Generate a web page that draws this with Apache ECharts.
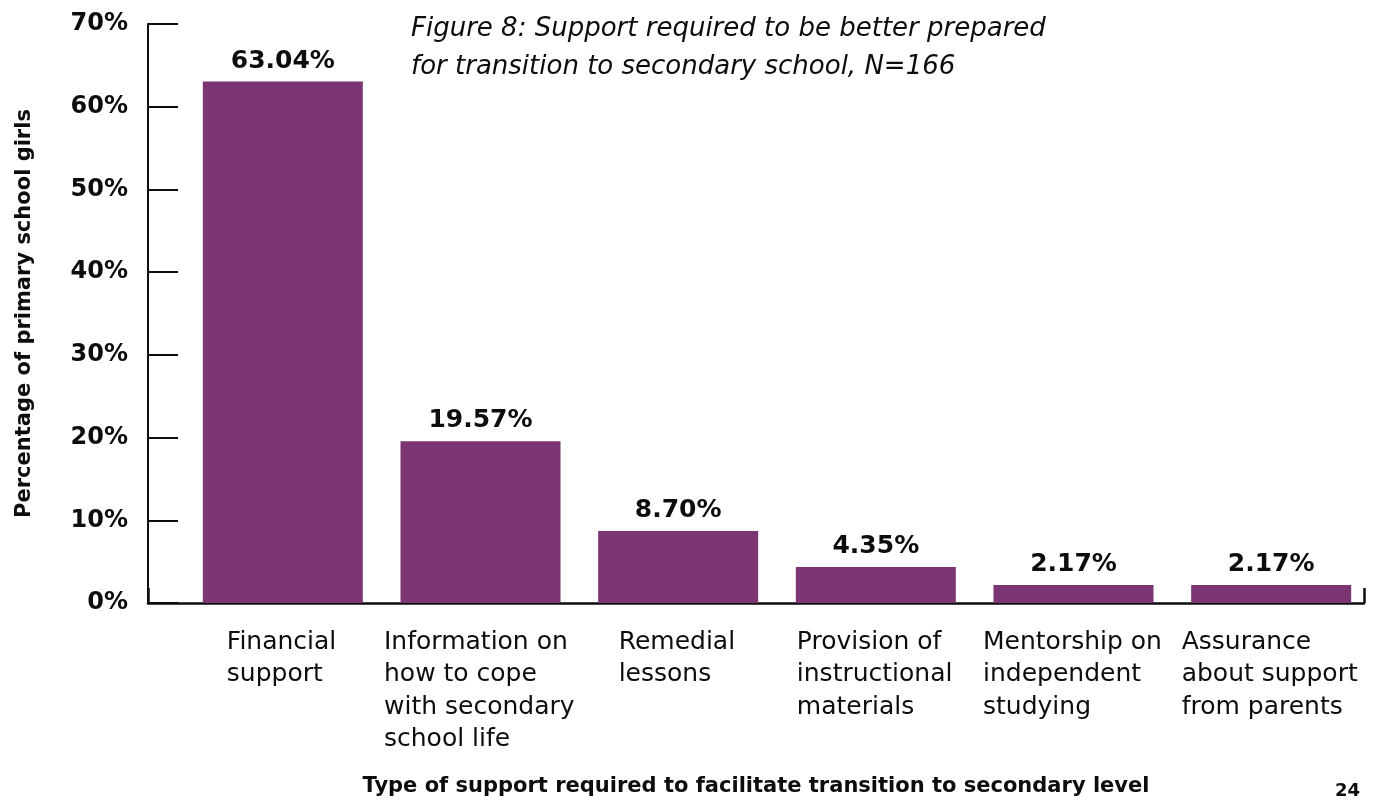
<!DOCTYPE html>
<html>
<head>
<meta charset="utf-8">
<title>Support required for transition to secondary school</title>
<script src="https://cdn.jsdelivr.net/npm/echarts@6/dist/echarts.min.js"></script>
<style>
  html, body { margin: 0; padding: 0; background: #fff; }
  #chart { width: 1383px; height: 800px; }
</style>
</head>
<body>
<div id="chart"></div>
<script>
// Support types (one line per array entry of the wrapped label)
const categories = [
  ['Financial', 'support'],
  ['Information on', 'how to cope', 'with secondary', 'school life'],
  ['Remedial', 'lessons'],
  ['Provision of', 'instructional', 'materials'],
  ['Mentorship on', 'independent', 'studying'],
  ['Assurance', 'about support', 'from parents']
];
// Share of primary school girls, in percent
const values = [63.04, 19.57, 8.70, 4.35, 2.17, 2.17];
const yTicks = [0, 10, 20, 30, 40, 50, 60, 70];

const FONT = '"DejaVu Sans", "Open Sans", sans-serif';
const LABEL_SIZE = 25;
const BAR_COLOR = '#7a3572';
const INK = '#0d0d0d';

// Measure each wrapped label so its lines can be left-aligned inside a centred block
const ctx = document.createElement('canvas').getContext('2d');
ctx.font = LABEL_SIZE + 'px ' + FONT;
const rich = {};
categories.forEach((lines, i) => {
  const w = Math.max(...lines.map(l => ctx.measureText(l).width));
  rich['c' + i] = {
    width: Math.ceil(w) + 2,
    align: 'left',
    fontFamily: FONT,
    fontSize: LABEL_SIZE,
    lineHeight: 32.5,
    color: INK
  };
});

const chart = echarts.init(document.getElementById('chart'), null, { renderer: 'canvas' });

const plotTop = 24;
const plotBottom = 197;

chart.setOption({
  animation: false,
  backgroundColor: '#ffffff',
  title: [
    {
      text: 'Figure 8: Support required to be better prepared\nfor transition to secondary school, N=166',
      left: 406,
      top: 5,
      textStyle: {
        fontFamily: FONT,
        fontStyle: 'italic',
        fontWeight: 'normal',
        fontSize: 26,
        lineHeight: 38,
        color: INK
      }
    },
    {
      text: '24',
      right: 18,
      top: 777,
      textStyle: { fontFamily: FONT, fontWeight: 'bold', fontSize: 18, color: INK }
    }
  ],
  grid: [
    // bars
    { left: 184, right: 13, top: plotTop, bottom: plotBottom, outerBoundsMode: 'none' },
    // baseline frame spanning from the value axis to the end tick
    { left: 148, right: 19, top: plotTop, bottom: plotBottom, outerBoundsMode: 'none' }
  ],
  xAxis: [
    {
      type: 'category',
      gridIndex: 0,
      data: categories.map(c => c.join(' ')),
      axisLine: { show: false },
      axisTick: { show: false },
      axisLabel: {
        margin: 23,
        interval: 0,
        formatter: (v, i) => categories[i].map(l => '{c' + i + '|' + l + '}').join('\n'),
        rich: rich
      }
    },
    {
      type: 'value',
      gridIndex: 1,
      position: 'bottom',
      min: 0,
      max: 1,
      interval: 1,
      axisLine: { show: true, onZero: false, lineStyle: { color: INK, width: 2.5 } },
      axisTick: { show: true, inside: true, length: 15, lineStyle: { color: INK, width: 2.5 } },
      axisLabel: { show: false },
      splitLine: { show: false },
      name: 'Type of support required to facilitate transition to secondary level',
      nameLocation: 'middle',
      nameGap: 173,
      nameTextStyle: { fontFamily: FONT, fontWeight: 'bold', fontSize: 21, color: INK }
    }
  ],
  yAxis: [
    {
      type: 'value',
      gridIndex: 0,
      min: yTicks[0],
      max: yTicks[yTicks.length - 1],
      interval: 10,
      offset: 36,
      axisLine: { show: true, lineStyle: { color: INK, width: 2 } },
      axisTick: { show: true, inside: true, length: 30, lineStyle: { color: INK, width: 2 } },
      splitLine: { show: false },
      axisLabel: {
        margin: 20,
        formatter: v => v + '%',
        fontFamily: FONT,
        fontWeight: 'bold',
        fontSize: 24,
        color: INK
      },
      name: 'Percentage of primary school girls',
      nameLocation: 'middle',
      nameRotate: 90,
      nameGap: 113,
      nameTextStyle: {
        fontFamily: FONT,
        fontWeight: 'bold',
        fontSize: 21,
        color: INK
      }
    },
    {
      type: 'value',
      gridIndex: 1,
      min: 0,
      max: 1,
      show: false
    }
  ],
  series: [
    {
      type: 'bar',
      xAxisIndex: 0,
      yAxisIndex: 0,
      data: values,
      barWidth: 160,
      itemStyle: { color: BAR_COLOR },
      label: {
        show: true,
        position: 'top',
        distance: 8,
        formatter: p => p.value.toFixed(2) + '%',
        fontFamily: FONT,
        fontWeight: 'bold',
        fontSize: 25,
        color: INK
      }
    }
  ]
});
</script>
</body>
</html>
